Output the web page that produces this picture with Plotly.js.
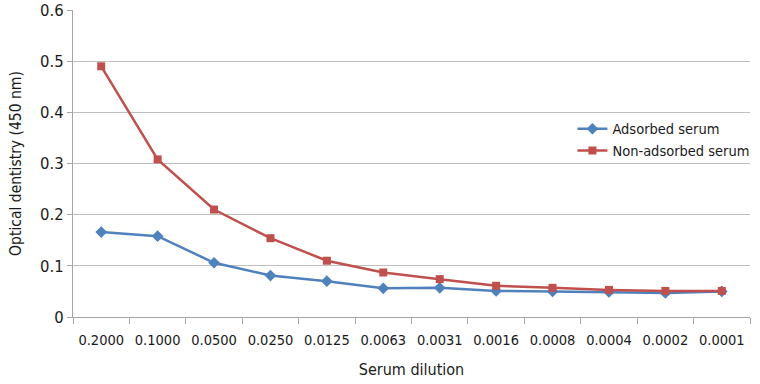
<!DOCTYPE html>
<html>
<head>
<meta charset="utf-8">
<script src="https://cdn.plot.ly/plotly-3.0.1.min.js"></script>
<style>html,body{margin:0;padding:0;background:#fff;}#chart{width:760px;height:384px;}</style>
</head>
<body>
<div id="chart"></div>
<script>
const dilutions = ["0.2000","0.1000","0.0500","0.0250","0.0125","0.0063","0.0031","0.0016","0.0008","0.0004","0.0002","0.0001"];
const adsorbed = [0.166,0.158,0.106,0.081,0.070,0.056,0.057,0.051,0.050,0.049,0.047,0.050];
const nonAdsorbed = [0.490,0.308,0.210,0.154,0.110,0.087,0.074,0.061,0.057,0.053,0.051,0.051];
const yTicks = [0,0.1,0.2,0.3,0.4,0.5,0.6];
const yTickText = ["0","0.1","0.2","0.3","0.4","0.5","0.6"];

const FONT = "'DejaVu Sans Condensed', 'Liberation Sans Narrow', 'Open Sans', sans-serif";

const traces = [
  {x: dilutions, y: adsorbed, name: "Adsorbed serum", type: "scatter", mode: "lines+markers",
   line: {color: "#4F81BD", width: 2.5}, marker: {symbol: "diamond", size: 9, color: "#4F81BD"}},
  {x: dilutions, y: nonAdsorbed, name: "Non-adsorbed serum", type: "scatter", mode: "lines+markers",
   line: {color: "#C0504D", width: 2.5}, marker: {symbol: "square", size: 8, color: "#C0504D"}}
];

const layout = {
  width: 760, height: 384,
  margin: {l: 73, r: 10, t: 10, b: 67, autoexpand: false},
  paper_bgcolor: "#fff", plot_bgcolor: "#fff",
  font: {family: FONT, size: 15, color: "#1a1a1a"},
  showlegend: true,
  legend: {x: 1.008, y: 0.665, xanchor: "right", yanchor: "top", bgcolor: "rgba(0,0,0,0)",
           font: {family: FONT, size: 14.5, color: "#1a1a1a"}, tracegroupgap: 0, itemwidth: 30},
  xaxis: {
    type: "category", tickson: "boundaries", ticks: "outside", ticklen: 6, tickcolor: "#a6a6a6",
    tickangle: 0, automargin: false, ticklabelstandoff: 10,
    showline: true, linecolor: "#a6a6a6", linewidth: 1, showgrid: false, zeroline: false,
    tickfont: {family: FONT, size: 14.5, color: "#1a1a1a"},
    title: {text: "Serum dilution", font: {family: FONT, size: 16, color: "#1a1a1a"}, standoff: 16},
    range: [-0.5, 11.5]
  },
  yaxis: {
    range: [0, 0.6], tickvals: yTicks, ticktext: yTickText, ticks: "outside", ticklen: 5, tickcolor: "#a6a6a6",
    automargin: false, ticklabelstandoff: 0, ticklabeloverflow: "allow",
    showline: true, linecolor: "#a6a6a6", linewidth: 1,
    showgrid: true, gridcolor: "#bfbfbf", gridwidth: 1, zeroline: false,
    tickfont: {family: FONT, size: 16.5, color: "#1a1a1a"},
    title: {text: "Optical dentistry (450 nm)", font: {family: FONT, size: 15.5, color: "#1a1a1a"}, standoff: 14}
  }
};

Plotly.newPlot("chart", traces, layout, {displayModeBar: false, staticPlot: true});
</script>
</body>
</html>
